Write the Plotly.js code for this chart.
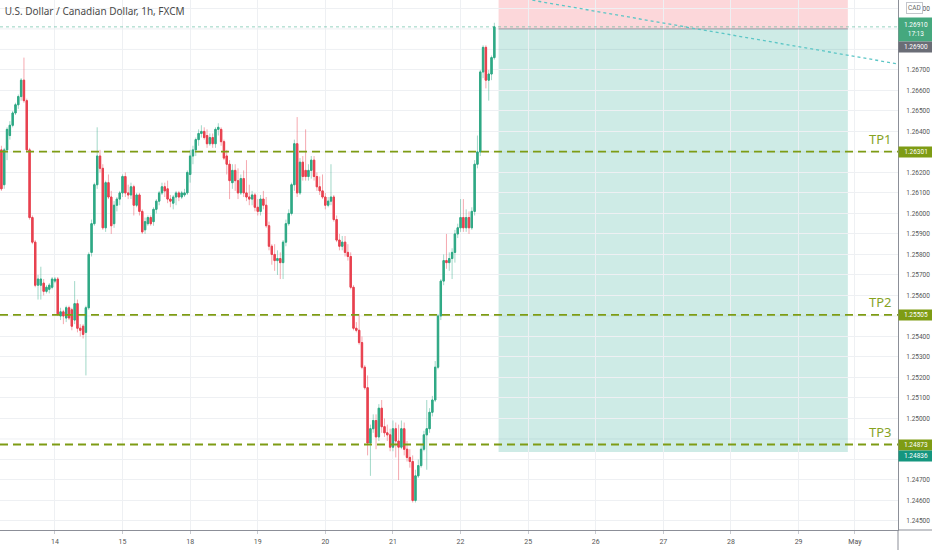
<!DOCTYPE html>
<html>
<head>
<meta charset="utf-8">
<script src="https://cdn.plot.ly/plotly-3.0.1.min.js"></script>
<style>
  html, body { margin: 0; padding: 0; background: #fff; }
  #myDiv { width: 932px; height: 550px; }
</style>
</head>
<body>
<div id="myDiv"></div>
<script>
graphDiv = 'myDiv'

// hourly USDCAD candles (13 Apr evening -> 22 Apr midday)
var openP = [
  1.2631, 1.2614, 1.2631, 1.2638, 1.2643, 1.2649, 1.2653, 1.2657, 1.2665, 1.2655,
  1.2631, 1.2598, 1.2586, 1.2565, 1.2565, 1.2566, 1.2562, 1.2563, 1.2564, 1.2567,
  1.2568, 1.2550, 1.2552, 1.2549, 1.2554, 1.2553, 1.2548, 1.2556, 1.2544, 1.2545,
  1.2542, 1.2554, 1.2581, 1.2595, 1.2614, 1.2628, 1.2622, 1.2593, 1.2615, 1.2608,
  1.2595, 1.2604, 1.2607, 1.2610, 1.2618, 1.2610, 1.2609, 1.2613, 1.2604, 1.2609,
  1.2601, 1.2592, 1.2595, 1.2598, 1.2596, 1.2602, 1.2606, 1.2610, 1.2613, 1.2612,
  1.2607, 1.2605, 1.2608, 1.2610, 1.2608, 1.2609, 1.2610, 1.2619, 1.2628, 1.2631,
  1.2636, 1.2639, 1.2640, 1.2638, 1.2634, 1.2637, 1.2634, 1.2641, 1.2641, 1.2635,
  1.2628, 1.2624, 1.2615, 1.2621, 1.2616, 1.2610, 1.2617, 1.2610, 1.2608, 1.2607,
  1.2609, 1.2603, 1.2601, 1.2607, 1.2604, 1.2594, 1.2584, 1.2580, 1.2577, 1.2578,
  1.2576, 1.2586, 1.2595, 1.2600, 1.2614, 1.2634, 1.2610, 1.2625, 1.2621, 1.2618,
  1.2621, 1.2626, 1.2618, 1.2613, 1.2611, 1.2608, 1.2604, 1.2606, 1.2608, 1.2597,
  1.2587, 1.2584, 1.2586, 1.2581, 1.2579, 1.2564, 1.2544, 1.2543, 1.2537, 1.2525,
  1.2515, 1.2488, 1.2495, 1.2499, 1.2491, 1.2505, 1.2496, 1.2493, 1.2492, 1.2486,
  1.2495, 1.2489, 1.2486, 1.2495, 1.2485, 1.2481, 1.2479, 1.2460, 1.2472, 1.2477,
  1.2485, 1.2492, 1.2495, 1.2503, 1.2509, 1.2525, 1.2550, 1.2567, 1.2577, 1.2576,
  1.2578, 1.2581, 1.2590, 1.2593, 1.2598, 1.2593, 1.2598, 1.2593, 1.2601, 1.2624,
  1.2630, 1.2669, 1.2681, 1.2665, 1.2668, 1.2676
]
var highP = [
  1.2633, 1.2632, 1.2642, 1.2645, 1.2650, 1.2654, 1.2658, 1.2666, 1.2676, 1.2656,
  1.2632, 1.2599, 1.2587, 1.2570, 1.2574, 1.2568, 1.2565, 1.2566, 1.2569, 1.2569,
  1.2569, 1.2554, 1.2553, 1.2555, 1.2555, 1.2554, 1.2567, 1.2558, 1.2546, 1.2546,
  1.2555, 1.2581, 1.2597, 1.2615, 1.2642, 1.2631, 1.2624, 1.2616, 1.2619, 1.2611,
  1.2606, 1.2608, 1.2611, 1.2619, 1.2620, 1.2614, 1.2615, 1.2614, 1.2610, 1.2610,
  1.2602, 1.2598, 1.2599, 1.2599, 1.2603, 1.2607, 1.2611, 1.2615, 1.2615, 1.2616,
  1.2609, 1.2609, 1.2611, 1.2611, 1.2611, 1.2612, 1.2621, 1.2631, 1.2633, 1.2637,
  1.2641, 1.2643, 1.2642, 1.2641, 1.2639, 1.2639, 1.2642, 1.2644, 1.2642, 1.2636,
  1.2631, 1.2626, 1.2624, 1.2624, 1.2622, 1.2619, 1.2621, 1.2626, 1.2614, 1.2611,
  1.2610, 1.2607, 1.2609, 1.2611, 1.2608, 1.2596, 1.2585, 1.2585, 1.2582, 1.2581,
  1.2587, 1.2597, 1.2602, 1.2615, 1.2636, 1.2647, 1.2627, 1.2628, 1.2641, 1.2624,
  1.2628, 1.2628, 1.2620, 1.2618, 1.2619, 1.2610, 1.2608, 1.2624, 1.2609, 1.2599,
  1.2590, 1.2589, 1.2589, 1.2585, 1.2581, 1.2565, 1.2547, 1.2551, 1.2540, 1.2526,
  1.2521, 1.2497, 1.2502, 1.2502, 1.2507, 1.2509, 1.2500, 1.2497, 1.2495, 1.2499,
  1.2498, 1.2497, 1.2499, 1.2498, 1.2489, 1.2485, 1.2482, 1.2475, 1.2480, 1.2487,
  1.2494, 1.2509, 1.2505, 1.2511, 1.2528, 1.2551, 1.2568, 1.2580, 1.2590, 1.2581,
  1.2583, 1.2592, 1.2595, 1.2607, 1.2607, 1.2602, 1.2601, 1.2603, 1.2626, 1.2638,
  1.2670, 1.2682, 1.2682, 1.2670, 1.2677, 1.2693
]
var lowP = [
  1.2611, 1.2612, 1.2626, 1.2636, 1.2642, 1.2648, 1.2651, 1.2655, 1.2654, 1.2630,
  1.2597, 1.2585, 1.2564, 1.2558, 1.2558, 1.2560, 1.2561, 1.2561, 1.2563, 1.2566,
  1.2550, 1.2548, 1.2546, 1.2547, 1.2548, 1.2543, 1.2546, 1.2542, 1.2540, 1.2539,
  1.2521, 1.2553, 1.2579, 1.2594, 1.2612, 1.2620, 1.2592, 1.2591, 1.2607, 1.2590,
  1.2593, 1.2601, 1.2604, 1.2608, 1.2608, 1.2607, 1.2607, 1.2599, 1.2603, 1.2599,
  1.2590, 1.2590, 1.2594, 1.2594, 1.2594, 1.2600, 1.2604, 1.2609, 1.2608, 1.2605,
  1.2603, 1.2602, 1.2604, 1.2606, 1.2607, 1.2608, 1.2609, 1.2615, 1.2624, 1.2628,
  1.2633, 1.2637, 1.2636, 1.2632, 1.2633, 1.2632, 1.2632, 1.2638, 1.2633, 1.2626,
  1.2619, 1.2607, 1.2612, 1.2611, 1.2607, 1.2609, 1.2608, 1.2606, 1.2604, 1.2604,
  1.2601, 1.2599, 1.2599, 1.2602, 1.2593, 1.2582, 1.2575, 1.2572, 1.2570, 1.2568,
  1.2568, 1.2584, 1.2594, 1.2599, 1.2611, 1.2608, 1.2609, 1.2616, 1.2616, 1.2616,
  1.2617, 1.2616, 1.2611, 1.2609, 1.2607, 1.2602, 1.2603, 1.2604, 1.2596, 1.2586,
  1.2582, 1.2582, 1.2579, 1.2577, 1.2563, 1.2543, 1.2542, 1.2536, 1.2524, 1.2514,
  1.2482, 1.2472, 1.2493, 1.2485, 1.2489, 1.2493, 1.2491, 1.2489, 1.2484, 1.2484,
  1.2481, 1.2470, 1.2485, 1.2482, 1.2479, 1.2476, 1.2459, 1.2459, 1.2471, 1.2476,
  1.2484, 1.2475, 1.2493, 1.2501, 1.2508, 1.2524, 1.2548, 1.2565, 1.2573, 1.2572,
  1.2568, 1.2576, 1.2588, 1.2591, 1.2591, 1.2591, 1.2590, 1.2592, 1.2599, 1.2622,
  1.2628, 1.2666, 1.2661, 1.2655, 1.2665, 1.2675
]
var closeP = [
  1.2612, 1.2631, 1.2641, 1.2643, 1.2649, 1.2653, 1.2657, 1.2665, 1.2655, 1.2631,
  1.2598, 1.2586, 1.2565, 1.2568, 1.2568, 1.2562, 1.2564, 1.2565, 1.2568, 1.2568,
  1.2551, 1.2552, 1.2550, 1.2554, 1.2549, 1.2545, 1.2556, 1.2544, 1.2543, 1.2541,
  1.2554, 1.2580, 1.2595, 1.2614, 1.2628, 1.2622, 1.2593, 1.2615, 1.2608, 1.2594,
  1.2604, 1.2607, 1.2610, 1.2618, 1.2610, 1.2609, 1.2613, 1.2604, 1.2609, 1.2601,
  1.2591, 1.2596, 1.2598, 1.2595, 1.2602, 1.2606, 1.2610, 1.2613, 1.2611, 1.2607,
  1.2606, 1.2608, 1.2610, 1.2608, 1.2610, 1.2610, 1.2620, 1.2628, 1.2631, 1.2636,
  1.2639, 1.2640, 1.2637, 1.2634, 1.2637, 1.2634, 1.2641, 1.2642, 1.2635, 1.2627,
  1.2624, 1.2616, 1.2621, 1.2616, 1.2610, 1.2617, 1.2610, 1.2608, 1.2607, 1.2609,
  1.2603, 1.2601, 1.2607, 1.2604, 1.2594, 1.2584, 1.2580, 1.2577, 1.2578, 1.2576,
  1.2586, 1.2595, 1.2600, 1.2614, 1.2634, 1.2610, 1.2625, 1.2618, 1.2618, 1.2621,
  1.2626, 1.2618, 1.2613, 1.2611, 1.2608, 1.2604, 1.2606, 1.2608, 1.2597, 1.2587,
  1.2584, 1.2586, 1.2581, 1.2579, 1.2564, 1.2544, 1.2543, 1.2537, 1.2525, 1.2515,
  1.2488, 1.2495, 1.2499, 1.2491, 1.2505, 1.2496, 1.2493, 1.2492, 1.2486, 1.2495,
  1.2489, 1.2486, 1.2495, 1.2485, 1.2481, 1.2479, 1.2460, 1.2472, 1.2477, 1.2485,
  1.2492, 1.2495, 1.2503, 1.2509, 1.2525, 1.2550, 1.2567, 1.2577, 1.2576, 1.2578,
  1.2581, 1.2590, 1.2593, 1.2598, 1.2593, 1.2598, 1.2593, 1.2601, 1.2624, 1.2630,
  1.2669, 1.2681, 1.2665, 1.2668, 1.2676, 1.2691
]

// date labels on the time scale
var dayLabels = ['14', '15', '18', '19', '20', '21', '22', '25', '26', '27', '28', '29', 'May']

// price scale labels that are not hidden behind a tag
var priceTicks = [1.245, 1.246, 1.247, 1.250, 1.251, 1.252, 1.253, 1.254, 1.256,
  1.257, 1.258, 1.259, 1.260, 1.261, 1.262, 1.264, 1.265, 1.266, 1.267, 1.270]
// levels whose label is covered, grid line only
var hiddenPrices = [1.248, 1.249, 1.255, 1.263, 1.268, 1.269]

// short position drawing + take profits
var entryPrice = 1.26900
var stopPrice = 1.27120      // above the visible range
var targetPrice = 1.24836
var lastPrice = 1.26910
var countdown = '17:13'
var tpNames = ['TP1', 'TP2', 'TP3']
var tpLevels = [1.26301, 1.25505, 1.24873]
var trendPrices = [1.27040, 1.26729]   // dotted trend line, start/end

var upColor = '#2fa985'
var downColor = '#e8414f'
var tpColor = '#7e9c14'
var tagFont = { size: 6.5, color: '#fff', family: 'Roboto, sans-serif' }

// bar index is the x value; days are 24 bars apart
var barIdx = openP.map((_, i) => i)
var dayTickBars = [19, 43, 67, 91, 115, 139, 163, 187, 211, 235, 259, 283, 303]
var posStart = 176.5
var posEnd = 300.5
var trendBars = [188.5, 318.3]

var wicks = {
  type: 'candlestick',
  x: barIdx, open: openP, high: highP, low: lowP, close: closeP,
  increasing: { line: { color: 'rgba(47,169,133,0.45)', width: 1 }, fillcolor: 'rgba(47,169,133,0.45)' },
  decreasing: { line: { color: 'rgba(232,65,79,0.45)', width: 1 }, fillcolor: 'rgba(232,65,79,0.45)' },
  whiskerwidth: 0,
  hoverinfo: 'skip',
  showlegend: false
}

// bodies drawn on top, solid
var bodies = {
  type: 'candlestick',
  x: barIdx, open: openP, close: closeP,
  high: openP.map((o, i) => Math.max(o, closeP[i])),
  low: openP.map((o, i) => Math.min(o, closeP[i])),
  increasing: { line: { color: upColor, width: 1 }, fillcolor: upColor },
  decreasing: { line: { color: downColor, width: 1 }, fillcolor: downColor },
  whiskerwidth: 0,
  hoverinfo: 'skip',
  showlegend: false
}

var shapes = [
  // stop zone
  { type: 'rect', xref: 'x', yref: 'y', x0: posStart, x1: posEnd, y0: entryPrice, y1: stopPrice,
    fillcolor: 'rgba(242,54,69,0.2)', line: { width: 0 }, layer: 'below' },
  // target zone
  { type: 'rect', xref: 'x', yref: 'y', x0: posStart, x1: posEnd, y0: targetPrice, y1: entryPrice,
    fillcolor: 'rgba(8,153,129,0.2)', line: { width: 0 }, layer: 'below' },
  // entry line
  { type: 'line', xref: 'x', yref: 'y', x0: posStart, x1: posEnd, y0: entryPrice, y1: entryPrice,
    line: { color: '#9a9ca6', width: 1 } },
  // last price line
  { type: 'line', xref: 'paper', yref: 'y', x0: 0, x1: 1, y0: lastPrice, y1: lastPrice,
    line: { color: 'rgba(47,169,133,0.5)', width: 1, dash: 'dot' } },
  // trend line
  { type: 'line', xref: 'x', yref: 'y', x0: trendBars[0], x1: trendBars[1], y0: trendPrices[0], y1: trendPrices[1],
    line: { color: '#5cc6c6', width: 1.3, dash: '3px,3px' } },
  // scale separators running into the corner
  { type: 'line', xref: 'paper', yref: 'paper', x0: 1, x1: 1, y0: -0.05, y1: 0,
    line: { color: '#8c8f98', width: 1 } },
  { type: 'line', xref: 'paper', yref: 'paper', x0: 1, x1: 1.04, y0: 0, y1: 0,
    line: { color: '#8c8f98', width: 1 } }
]

hiddenPrices.forEach(function (p) {
  shapes.push({ type: 'line', xref: 'paper', yref: 'y', x0: 0, x1: 1, y0: p, y1: p,
    line: { color: '#eef0f3', width: 1 }, layer: 'below' })
})

var annotations = []
tpLevels.forEach(function (lvl, i) {
  shapes.push({ type: 'line', xref: 'paper', yref: 'y', x0: 0, x1: 1, y0: lvl, y1: lvl,
    line: { color: tpColor, width: 1.8, dash: '8px,5px' } })
  annotations.push({ xref: 'paper', yref: 'y', x: 0.98, xanchor: 'center', y: lvl, yanchor: 'bottom', yshift: 2,
    text: tpNames[i], showarrow: false, font: { size: 13, color: '#86a31f', family: 'Noto Sans, sans-serif' } })
  annotations.push({ xref: 'paper', yref: 'y', x: 1, xanchor: 'left', y: lvl, yanchor: 'middle',
    text: lvl.toFixed(5), showarrow: false, bgcolor: tpColor, width: 32, borderpad: 1, font: tagFont })
})

// price scale tags
annotations.push({ xref: 'paper', yref: 'y', x: 1, xanchor: 'left', y: lastPrice, yanchor: 'middle', yshift: -3,
  text: lastPrice.toFixed(5) + '<br>' + countdown, showarrow: false, bgcolor: '#45a87e', width: 32, height: 21,
  borderpad: 1, font: tagFont })
annotations.push({ xref: 'paper', yref: 'y', x: 1, xanchor: 'left', y: entryPrice, yanchor: 'middle', yshift: -18,
  text: entryPrice.toFixed(5), showarrow: false, bgcolor: '#6a6d76', width: 32, borderpad: 1, font: tagFont })
annotations.push({ xref: 'paper', yref: 'y', x: 1, xanchor: 'left', y: targetPrice, yanchor: 'middle', yshift: -4,
  text: targetPrice.toFixed(5), showarrow: false, bgcolor: '#14967f', width: 32, borderpad: 1, font: tagFont })
annotations.push({ xref: 'paper', yref: 'y', x: 1, xanchor: 'left', xshift: 8, y: 1.2700, yanchor: 'middle',
  text: 'CAD', showarrow: false, bgcolor: '#fff', bordercolor: '#c4c6cc', borderwidth: 1, borderpad: 1,
  font: { size: 6.5, color: '#666', family: 'Roboto, sans-serif' } })

var layout = {
  width: 932,
  height: 550,
  margin: { l: 0, r: 34, t: 0, b: 20 },
  paper_bgcolor: '#fff',
  plot_bgcolor: '#fff',
  font: { family: 'Roboto, sans-serif', color: '#555' },
  title: {
    text: 'U.S. Dollar / Canadian Dollar, 1h, FXCM',
    x: 0.005, xanchor: 'left', y: 0.979, yanchor: 'middle',
    font: { size: 10, color: '#4a4a4a', family: 'Noto Sans, sans-serif' }
  },
  showlegend: false,
  xaxis: {
    type: 'linear',
    range: [-0.5, 318.3],
    tickvals: dayTickBars,
    ticktext: dayLabels,
    tickfont: { size: 7, color: '#555' },
    showgrid: true, gridcolor: '#eef0f3', gridwidth: 1,
    zeroline: false,
    showline: true, linecolor: '#8c8f98', linewidth: 1,
    ticks: 'outside', ticklen: 3, tickcolor: '#c9cbd1',
    ticklabelstandoff: 2,
    rangeslider: { visible: false },
    fixedrange: true
  },
  yaxis: {
    side: 'right',
    range: [1.24456, 1.27041],
    tickmode: 'array',
    tickvals: priceTicks,
    ticktext: priceTicks.map(v => v.toFixed(5)),
    tickfont: { size: 6.5, color: '#555' },
    ticklabelstandoff: 6,
    showgrid: true, gridcolor: '#eef0f3', gridwidth: 1,
    zeroline: false,
    showline: true, linecolor: '#8c8f98', linewidth: 1,
    ticks: '',
    fixedrange: true
  },
  shapes: shapes,
  annotations: annotations
}

Plotly.newPlot(graphDiv, [wicks, bodies], layout, { displayModeBar: false, staticPlot: true });
</script>
</body>
</html>
